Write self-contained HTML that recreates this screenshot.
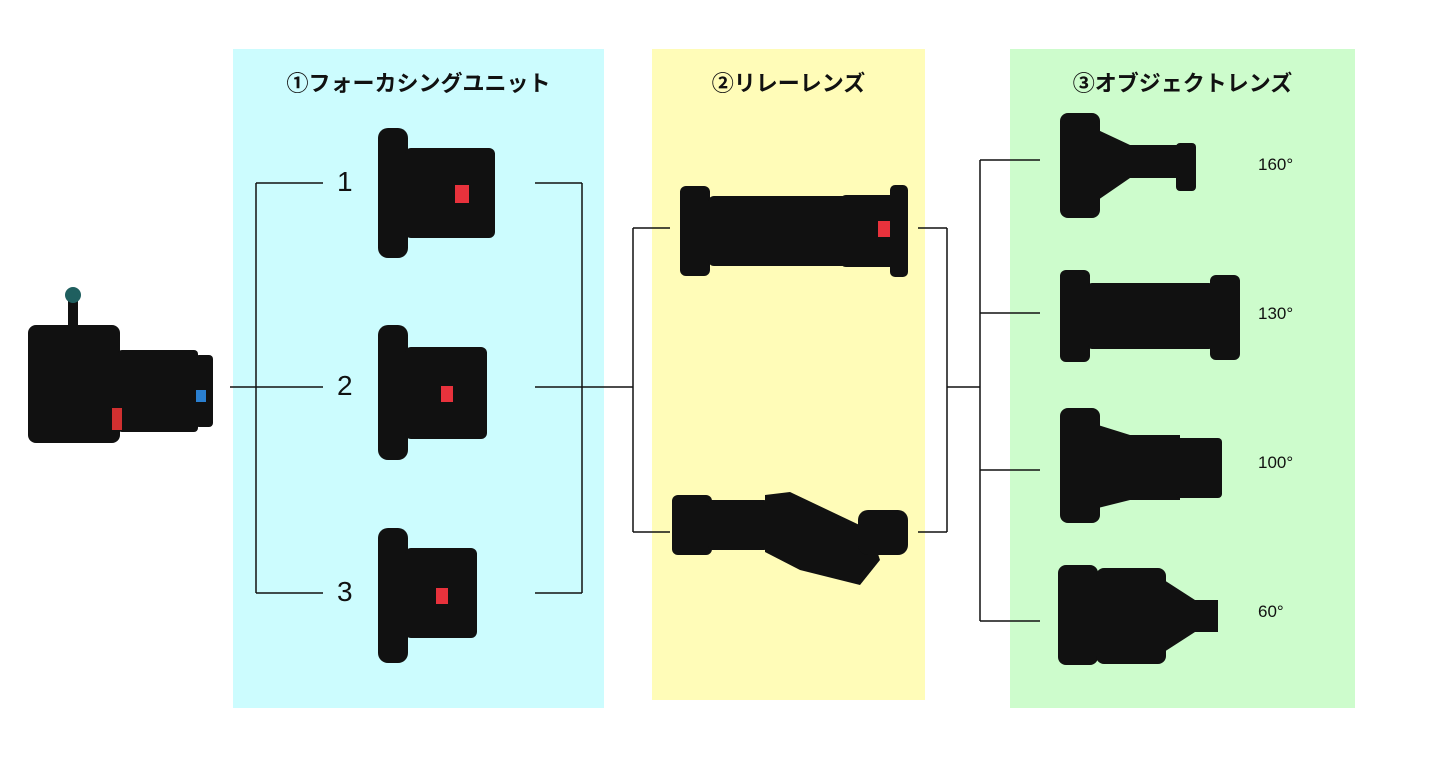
<!DOCTYPE html>
<html><head><meta charset="utf-8"><style>
body{margin:0;width:1440px;height:762px;background:#fff;position:relative;overflow:hidden;font-family:"Liberation Sans","Noto Sans CJK JP",sans-serif}
.p{position:absolute}
.t{position:absolute;font-weight:bold;font-size:22px;color:#111;text-align:center}
.n{position:absolute;font-size:28px;color:#111}
.d{position:absolute;font-size:17px;color:#111}
</style></head><body>
<div class="p" style="left:233px;top:49px;width:371px;height:659px;background:#ccfcfe"></div>
<div class="p" style="left:652px;top:49px;width:273px;height:651px;background:#fffcb8"></div>
<div class="p" style="left:1010px;top:49px;width:345px;height:659px;background:#cdfccc"></div>
<div class="t" style="left:233px;width:371px;top:66px">①フォーカシングユニット</div>
<div class="t" style="left:652px;width:273px;top:66px">②リレーレンズ</div>
<div class="t" style="left:1010px;width:345px;top:66px">③オブジェクトレンズ</div>
<svg class="p" style="left:0;top:0" width="1440" height="762">
<g stroke="#111" stroke-width="1.5" fill="none">
<path d="M230 387H256M256 183V593M256 183H323M256 387H323M256 593H323"/>
<path d="M535 183H582M535 387H582M535 593H582M582 183V593M582 387H633M633 228V532M633 228H670M633 532H670"/>
<path d="M918 228H947M918 532H947M947 228V532M947 387H980M980 160V621M980 160H1040M980 313H1040M980 470H1040M980 621H1040"/>
</g>
<g fill="#111">
<!-- camera -->
<rect x="28" y="325" width="92" height="118" rx="8"/>
<rect x="68" y="290" width="10" height="38"/>
<circle cx="73" cy="295" r="8" fill="#1f5f5f"/>
<rect x="118" y="350" width="80" height="82" rx="4"/>
<rect x="195" y="355" width="18" height="72" rx="4"/>
<rect x="196" y="390" width="10" height="12" fill="#2a7fd0"/>
<rect x="112" y="408" width="10" height="22" fill="#d03030"/>
<!-- focusing units -->
<rect x="378" y="128" width="30" height="130" rx="10"/><rect x="405" y="148" width="90" height="90" rx="6"/>
<rect x="455" y="185" width="14" height="18" fill="#e8323c"/>
<rect x="378" y="325" width="30" height="135" rx="10"/><rect x="405" y="347" width="82" height="92" rx="6"/>
<rect x="441" y="386" width="12" height="16" fill="#e8323c"/>
<rect x="378" y="528" width="30" height="135" rx="10"/><rect x="405" y="548" width="72" height="90" rx="6"/>
<rect x="436" y="588" width="12" height="16" fill="#e8323c"/>
<!-- relay -->
<rect x="680" y="186" width="30" height="90" rx="6"/><rect x="708" y="196" width="140" height="70" rx="6"/>
<rect x="840" y="195" width="60" height="72" rx="6"/><rect x="890" y="185" width="18" height="92" rx="5"/>
<rect x="878" y="221" width="12" height="16" fill="#e8323c"/>
<rect x="672" y="495" width="40" height="60" rx="6"/><rect x="708" y="500" width="60" height="50" rx="4"/>
<polygon points="765,495 790,492 870,530 880,560 860,585 800,570 765,552"/>
<rect x="858" y="510" width="50" height="45" rx="10"/>
<!-- objective -->
<rect x="1060" y="113" width="40" height="105" rx="8"/><polygon points="1098,130 1130,145 1180,145 1180,178 1130,178 1098,200"/><rect x="1176" y="143" width="20" height="48" rx="4"/>
<rect x="1060" y="270" width="30" height="92" rx="6"/><rect x="1088" y="283" width="125" height="66" rx="4"/><rect x="1210" y="275" width="30" height="85" rx="6"/>
<rect x="1060" y="408" width="40" height="115" rx="8"/><polygon points="1098,425 1130,435 1180,435 1180,500 1130,500 1098,508"/><rect x="1176" y="438" width="46" height="60" rx="4"/>
<rect x="1058" y="565" width="40" height="100" rx="8"/><rect x="1096" y="568" width="70" height="96" rx="8"/><polygon points="1164,580 1195,600 1218,600 1218,632 1195,632 1164,652"/>
</g>
</svg>
<div class="n" style="left:337px;top:166px">1</div>
<div class="n" style="left:337px;top:370px">2</div>
<div class="n" style="left:337px;top:576px">3</div>
<div class="d" style="left:1258px;top:155px">160°</div>
<div class="d" style="left:1258px;top:304px">130°</div>
<div class="d" style="left:1258px;top:453px">100°</div>
<div class="d" style="left:1258px;top:602px">60°</div>
</body></html>
